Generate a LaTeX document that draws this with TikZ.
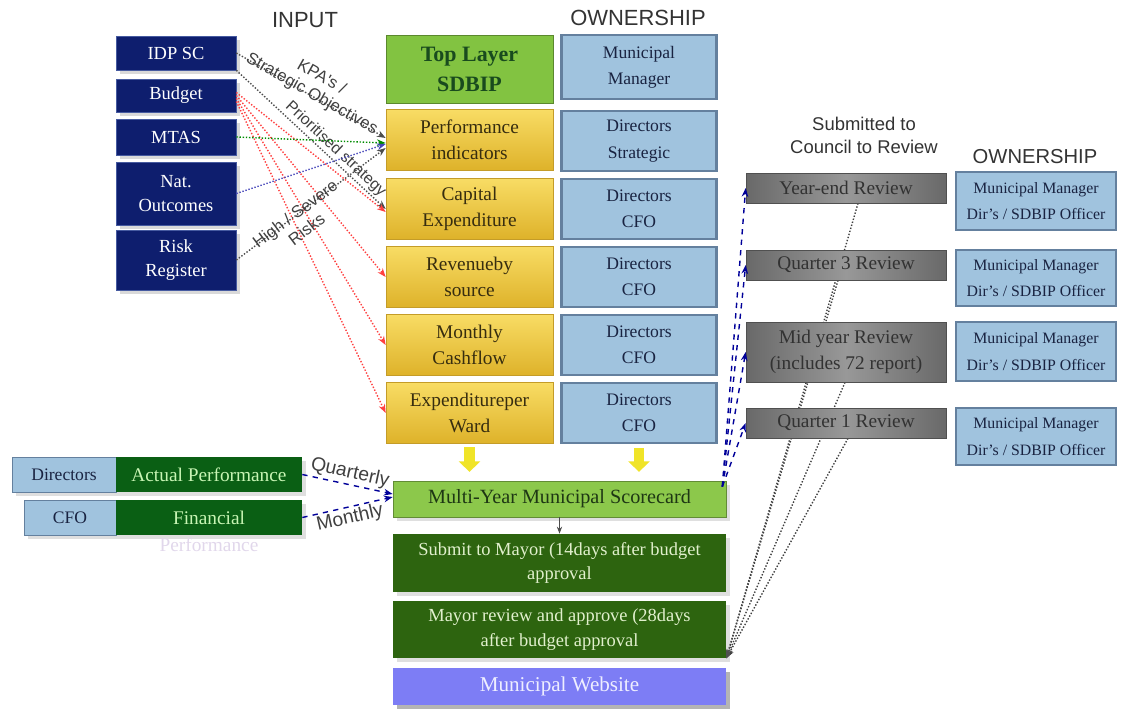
\documentclass[tikz,border=0pt]{standalone}
\usepackage{fontspec}
\setmainfont{Liberation Serif}
\newfontfamily\headfont{Liberation Sans}
\usepackage{xcolor}
\usetikzlibrary{shadows,backgrounds,calc,arrows.meta}

\definecolor{navy}{RGB}{14,30,110}
\definecolor{navyline}{RGB}{70,90,160}
\definecolor{sdbipgreen}{RGB}{130,195,65}
\definecolor{sdbiptext}{RGB}{25,75,30}
\definecolor{goldtop}{RGB}{248,220,100}
\definecolor{gold}{RGB}{222,178,42}
\definecolor{goldline}{RGB}{196,156,40}
\definecolor{goldtext}{RGB}{55,45,15}
\definecolor{ownblue}{RGB}{160,195,222}
\definecolor{ownline}{RGB}{100,128,158}
\definecolor{owntext}{RGB}{25,35,65}
\definecolor{scoregreen}{RGB}{140,200,75}
\definecolor{scoretext}{RGB}{30,55,20}
\definecolor{darkgreen}{RGB}{45,100,15}
\definecolor{darkgreentext}{RGB}{225,240,205}
\definecolor{actgreen}{RGB}{10,95,20}
\definecolor{acttext}{RGB}{200,245,180}
\definecolor{perfpale}{RGB}{225,215,235}
\definecolor{webblue}{RGB}{125,125,245}
\definecolor{webtext}{RGB}{238,238,255}
\definecolor{revedge}{RGB}{105,105,105}
\definecolor{revmid}{RGB}{152,152,152}
\definecolor{revtext}{RGB}{50,50,50}
\definecolor{revline}{RGB}{80,80,80}
\definecolor{arrowyellow}{RGB}{240,228,40}

\begin{document}
\begin{tikzpicture}[x=0.02cm,y=-0.02cm]

		\tikzstyle{head}    = [font=\headfont\fontsize{12.5}{15}\selectfont, text=black!80, align=center]
		\tikzstyle{lbl}     = [font=\headfont\fontsize{9.5}{11}\selectfont, text=black!75, align=center, inner sep=1pt]
		\tikzstyle{inbox}   = [rectangle, draw=navyline, fill=navy, text=white, minimum width=2.4cm, inner sep=1pt, align=center, font=\fontsize{10.5}{14}\selectfont, drop shadow={opacity=0.3}]
		\tikzstyle{kpibox}  = [rectangle, draw=goldline, top color=goldtop, bottom color=gold, text=goldtext, minimum width=3.34cm, minimum height=1.22cm, inner sep=1pt, align=center, font=\fontsize{11}{14.5}\selectfont]
		\tikzstyle{ownbox}  = [rectangle, draw=ownline, line width=1.5pt, fill=ownblue, text=owntext, minimum width=3.1cm, minimum height=1.2cm, inner sep=1pt, align=center, font=\fontsize{10}{15}\selectfont]
		\tikzstyle{revbox}  = [rectangle, draw=revline, left color=revedge, right color=revedge, middle color=revmid, text=revtext, minimum width=4cm, inner sep=1pt, align=center, font=\fontsize{11}{15}\selectfont]
		\tikzstyle{stagebar}= [rectangle, minimum width=6.66cm, inner sep=1pt, align=center, font=\fontsize{10.5}{14}\selectfont, drop shadow={opacity=0.25}]
		\tikzstyle{actbox}  = [rectangle, fill=actgreen, text=acttext, minimum width=3.72cm, minimum height=0.7cm, inner sep=1pt, font=\fontsize{11}{13}\selectfont, drop shadow={opacity=0.25}]
		\tikzstyle{whobox}  = [rectangle, draw=ownline, fill=ownblue, text=owntext, minimum height=0.7cm, inner sep=1pt, font=\fontsize{10}{12}\selectfont, drop shadow={opacity=0.25}]
		\tikzstyle{feed}    = [densely dotted, thick, -{Stealth[length=5pt]}]
		\tikzstyle{report}  = [dashed, thick, draw=blue!60!black, -{Stealth[length=5pt]}]
		\tikzstyle{bigarrow}= [line width=6pt, draw=arrowyellow, -{Triangle[width=12pt,length=6pt]}, shorten <=2pt, shorten >=5pt]

		\useasboundingbox (0,0) rectangle (1126,718);

		% headings
		\node [head] (inhead) at (305,20) {INPUT};
		\node [head] (ownhead) at (638,18) {OWNERSHIP};
		\node [head, font=\headfont\fontsize{10.5}{13}\selectfont] (councilhead) at (864,135) {Submitted to\\Council to Review};
		\node [head, font=\headfont\fontsize{11.5}{14}\selectfont] (ownhead2) at (1035,157) {OWNERSHIP};

		% inputs
		\node [inbox, minimum height=0.68cm] (idp) at (176,53) {IDP SC};
		\node [inbox, minimum height=0.66cm] (budget) at (176,95.5) {Budget};
		\node [inbox, minimum height=0.72cm] (mtas) at (176,137) {MTAS};
		\node [inbox, minimum height=1.26cm] (nat) at (176,193.5) {Nat.\\Outcomes};
		\node [inbox, minimum height=1.2cm] (risk) at (176,260) {Risk\\Register};

		% top layer sdbip
		\node [rectangle, draw=sdbipgreen!70!black, fill=sdbipgreen, text=sdbiptext, minimum width=3.34cm, minimum height=1.36cm, align=center, font=\bfseries\fontsize{12.5}{17}\selectfont] (sdbip) at (469.5,69) {Top Layer\\SDBIP};
		\node [ownbox, minimum height=1.28cm] (mm) at (639,67) {Municipal\\Manager};

		\node [kpibox] (perf) at (469.5,140) {Performance\\indicators};
		\node [kpibox] (capex) at (469.5,209) {Capital\\Expenditure};
		\node [kpibox] (rev) at (469.5,277) {Revenueby\\source};
		\node [kpibox] (cash) at (469.5,345) {Monthly\\Cashflow};
		\node [kpibox] (ward) at (469.5,413) {Expenditureper\\Ward};

		\node [ownbox] (ownperf) at (639,141) {Directors\\Strategic};
		\node [ownbox] (owncapex) at (639,209) {Directors\\CFO};
		\node [ownbox] (ownrev) at (639,277) {Directors\\CFO};
		\node [ownbox] (owncash) at (639,345) {Directors\\CFO};
		\node [ownbox] (ownward) at (639,413) {Directors\\CFO};

		% scorecard and approval steps
		\node [stagebar, draw=scoregreen!70!black, fill=scoregreen, text=scoretext, minimum height=0.72cm, font=\fontsize{11.5}{14}\selectfont] (score) at (559.5,499) {Multi-Year Municipal Scorecard};
		\node [stagebar, fill=darkgreen, text=darkgreentext, minimum height=1.16cm] (submit) at (559.5,563) {Submit to Mayor (14days after budget\\approval};
		\node [stagebar, fill=darkgreen, text=darkgreentext, minimum height=1.14cm] (mayor) at (559.5,629.5) {Mayor review and approve (28days\\after budget approval};
		\node [stagebar, fill=webblue, text=webtext, minimum height=0.74cm, font=\fontsize{12}{14}\selectfont, drop shadow={opacity=0.45}] (web) at (559.5,686.5) {Municipal Website};

		% actual performance
		\node [whobox, minimum width=2.08cm] (dira) at (64,474.5) {Directors};
		\node [actbox] (actual) at (209,474.5) {Actual Performance};
		\node [whobox, minimum width=1.84cm] (cfoa) at (70,517.5) {CFO};
		\node [actbox, label={[text=perfpale, font=\fontsize{11}{13}\selectfont, inner sep=1pt]below:Performance}] (finperf) at (209,517.5) {Financial};

		% reviews
		\node [revbox, minimum height=0.6cm] (yearend) at (846,188) {Year-end Review};
		\node [revbox, minimum height=0.6cm] (qthree) at (846,265) {Quarter 3 Review};
		\node [revbox, minimum height=1.2cm] (midyear) at (846,352) {Mid year Review\\(includes 72 report)};
		\node [revbox, minimum height=0.6cm] (qone) at (846,423) {Quarter 1 Review};

		\node [ownbox, line width=1.2pt, minimum width=3.2cm, minimum height=1.16cm, font=\fontsize{9}{15}\selectfont] (ownyear) at (1036,201) {Municipal Manager\\Dir's / SDBIP Officer};
		\node [ownbox, line width=1.2pt, minimum width=3.2cm, minimum height=1.12cm, font=\fontsize{9}{15}\selectfont] (ownqthree) at (1036,278) {Municipal Manager\\Dir's / SDBIP Officer};
		\node [ownbox, line width=1.2pt, minimum width=3.2cm, minimum height=1.18cm, font=\fontsize{9}{15}\selectfont] (ownmid) at (1036,351.5) {Municipal Manager\\Dir's / SDBIP Officer};
		\node [ownbox, line width=1.2pt, minimum width=3.2cm, minimum height=1.14cm, font=\fontsize{9}{15}\selectfont] (ownqone) at (1036,436.5) {Municipal Manager\\Dir's / SDBIP Officer};

		% inputs into the kpis
		\draw [feed, black!70] (idp.east) -- node[lbl, midway, sloped, above, yshift=-5pt] {KPA's /\\Strategic Objectives} ($(perf.west)+(0,-2)$);
		\draw [feed, black!70] (idp.south east) -- node[lbl, pos=0.62, sloped, above, font=\headfont\fontsize{9}{11}\selectfont] {Prioritised strategy} (capex.west);
		\draw [feed, red!75] ($(budget.east)+(0,-3)$) -- ($(capex.west)+(0,3)$);
		\draw [feed, red!75] (budget.east) -- (rev.west);
		\draw [feed, red!75] ($(budget.east)+(0,3)$) -- (cash.west);
		\draw [feed, red!75] ($(budget.east)+(0,6)$) -- (ward.west);
		\draw [feed, green!55!black] (mtas.east) -- ($(perf.west)+(0,3)$);
		\draw [feed, blue!45!gray] (nat.east) -- ($(perf.west)+(0,4)$);
		\draw [feed, black!70] (risk.east) -- node[lbl, pos=0.4, sloped, below, yshift=6pt] {High / Severe\\Risks} ($(perf.west)+(0,8)$);

		% into the scorecard
		\draw [bigarrow] (ward.south) -- (ward.south |- score.north);
		\draw [bigarrow] (ownward.south) -- (ownward.south |- score.north);
		\draw [report] (actual.east) -- node[lbl, midway, sloped, above, font=\headfont\fontsize{11}{13}\selectfont] {Quarterly} ($(score.west)+(0,-5)$);
		\draw [report] (finperf.east) -- node[lbl, midway, sloped, below, font=\headfont\fontsize{11}{13}\selectfont] {Monthly} ($(score.west)+(0,-2)$);
		\draw [-{Stealth[length=4pt]}, thin, black!70] (score.south) -- (submit.north);

		% scorecard to council reviews
		\draw [report] ($(score.north east)+(-4,6)$) -- (yearend.west);
		\draw [report] ($(score.north east)+(-4,6)$) -- (qthree.west);
		\draw [report] ($(score.north east)+(-4,6)$) -- (midyear.west);
		\draw [report] ($(score.north east)+(-4,6)$) -- (qone.west);

		\begin{scope}[on background layer]
			\draw [feed, black!75] ($(yearend.south)+(12,0)$) -- (mayor.south east);
			\draw [feed, black!75] ($(qthree.south)+(-8,0)$) -- (mayor.south east);
			\draw [feed, black!75] ($(midyear.south)+(-1,0)$) -- (mayor.south east);
			\draw [feed, black!75] ($(qone.south)+(2,0)$) -- (mayor.south east);
		\end{scope}

	\end{tikzpicture}
\end{document}
